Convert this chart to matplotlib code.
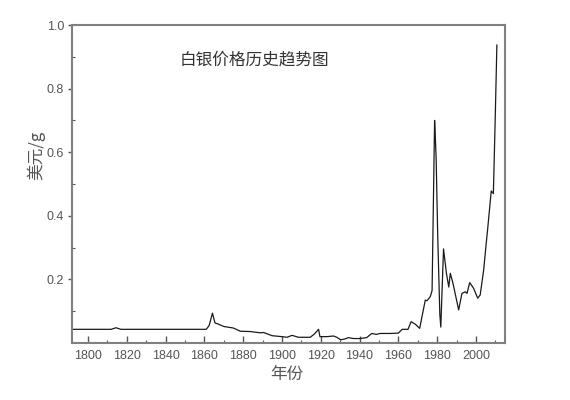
import matplotlib
matplotlib.use("Agg")
import matplotlib.pyplot as plt
from matplotlib.ticker import MultipleLocator, FixedLocator

years = [1792, 1812, 1814.5, 1817, 1861, 1862.5, 1864.2, 1865.5, 1867, 1870,
         1872, 1875, 1878.6, 1883.7, 1888.9, 1890.6, 1894.9, 1900, 1902.6, 1905.2,
         1908.6, 1914.6, 1916.7, 1918.9, 1919.6, 1923.2, 1926.6, 1928.3, 1930.3, 1932.6,
         1934.3, 1936.9, 1940.3, 1943.7, 1946.3, 1948.6, 1950.6, 1955.8, 1960, 1962,
         1965, 1966.6, 1968.8, 1971, 1973.9, 1974.8, 1976.5, 1977.4, 1978.1, 1978.7,
         1979.0, 1979.5, 1980.3, 1981.4, 1981.9, 1983.3, 1984.8, 1986, 1986.8, 1988.2,
         1991.1, 1992.8, 1994.5, 1995.4, 1996.8, 1998.8, 2000.9, 2002.2, 2004, 2005.3,
         2006, 2007.9, 2009.0, 2010.0, 2010.8]
prices = [0.043, 0.043, 0.048, 0.043, 0.043, 0.055, 0.094, 0.063, 0.060, 0.052,
          0.050, 0.047, 0.037, 0.036, 0.032, 0.033, 0.023, 0.020, 0.018, 0.024,
          0.018, 0.018, 0.028, 0.043, 0.020, 0.020, 0.022, 0.018, 0.010, 0.013,
          0.017, 0.014, 0.014, 0.017, 0.030, 0.027, 0.030, 0.030, 0.031, 0.043,
          0.043, 0.067, 0.059, 0.046, 0.135, 0.133, 0.146, 0.165, 0.45, 0.700,
          0.660, 0.580, 0.340, 0.090, 0.050, 0.296, 0.219, 0.176, 0.219, 0.187,
          0.104, 0.156, 0.161, 0.156, 0.190, 0.172, 0.141, 0.151, 0.230, 0.313,
          0.355, 0.478, 0.470, 0.720, 0.937]

x_major = [1800, 1820, 1840, 1860, 1880, 1900, 1920, 1940, 1960, 1980, 2000]
y_major = [0.2, 0.4, 0.6, 0.8, 1.0]

title_text = "白银价格历史趋势图"
xlabel_text = "年份"
ylabel_text = "美元/g"

cjk = ['Noto Sans CJK SC', 'DejaVu Sans']

fig = plt.figure(figsize=(5.7, 4.0), dpi=100)
ax = fig.add_axes([0.127, 0.1425, 0.759, 0.795])
ax.plot(years, prices, color='#1a1a1a', lw=0.9)

ax.set_xlim(1792, 2015)
ax.set_ylim(0, 1.0)
ax.xaxis.set_major_locator(FixedLocator(x_major))
ax.xaxis.set_minor_locator(MultipleLocator(10))
ax.yaxis.set_major_locator(FixedLocator(y_major))
ax.yaxis.set_minor_locator(FixedLocator([0.1, 0.3, 0.5, 0.7, 0.9]))
ax.set_yticklabels([f"{v:.1f}" for v in y_major])

ax.tick_params(axis='x', which='major', direction='in', length=5, width=1,
               color='#555555', labelsize=9, labelcolor='#555555', pad=5)
ax.tick_params(axis='x', which='minor', direction='in', length=2.5, width=0.8,
               color='#555555')
ax.tick_params(axis='y', which='major', direction='out', length=3, width=1,
               color='#555555', labelsize=9, labelcolor='#555555', pad=3)
ax.tick_params(axis='y', which='minor', direction='in', length=2.5, width=0.8,
               color='#555555')
for lab in ax.get_xticklabels() + ax.get_yticklabels():
    lab.set_family('Liberation Sans')

for s in ax.spines.values():
    s.set_color('#808080')
    s.set_linewidth(1.5)

ax.text(0.42, 0.89, title_text, transform=ax.transAxes, ha='center', va='center',
        fontsize=12, color='#333333', family=cjk)
fig.text(287 / 570, 1 - 374 / 400, xlabel_text, ha='center', va='center',
         fontsize=12, color='#555555', family=cjk)
fig.text(36 / 570, 1 - 155 / 400, ylabel_text, ha='center', va='center',
         rotation=90, fontsize=12, color='#555555', family=cjk)

fig.savefig('out.png', dpi=100)
